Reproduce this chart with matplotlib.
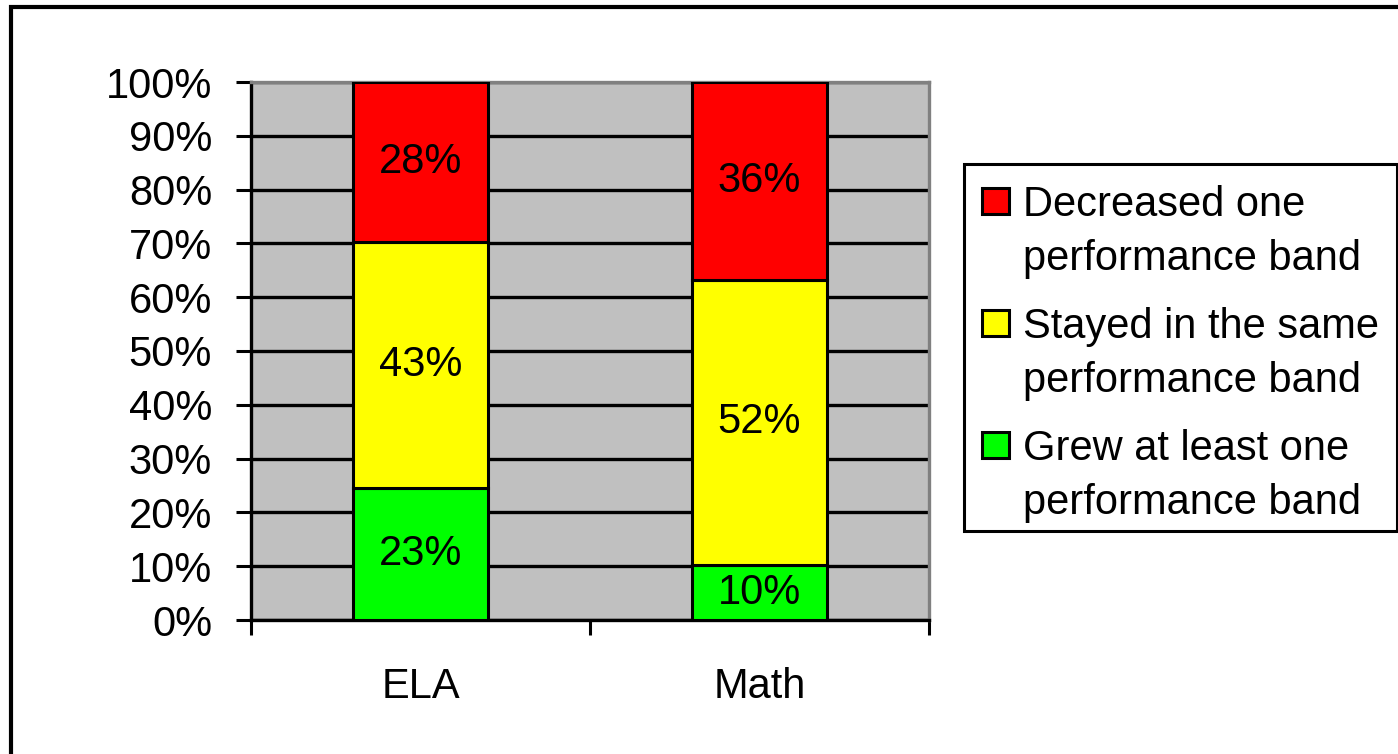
import matplotlib
matplotlib.use("Agg")
import matplotlib.pyplot as plt
from matplotlib.patches import Rectangle
import numpy as np

plt.rcParams['font.family'] = ['Liberation Sans', 'DejaVu Sans']

categories = ["ELA", "Math"]
series_names = ["Grew at least one\nperformance band",
                "Stayed in the same\nperformance band",
                "Decreased one\nperformance band"]
grew = [23, 10]
stayed = [43, 52]
decreased = [28, 36]
colors = ["#00FF00", "#FFFF00", "#FF0000"]
y_ticks = [0, 10, 20, 30, 40, 50, 60, 70, 80, 90, 100]
y_tick_labels = [f"{t}%" for t in y_ticks]

W, H = 1398, 754
FS = 30
fig = plt.figure(figsize=(W / 100, H / 100), dpi=100)
ax = fig.add_axes([251 / W, 1 - 620 / H, 678 / W, 538 / H])
ax.set_facecolor("#C0C0C0")

# 100% stacked: normalise each column
raw = np.array([grew, stayed, decreased], dtype=float)
share = raw / raw.sum(axis=0) * 100
x = np.arange(len(categories))
bottom = np.zeros(len(categories))
for vals, pct, col in zip(raw, share, colors):
    bars = ax.bar(x, pct, width=0.4, bottom=bottom, color=col,
                  edgecolor="black", linewidth=2.2, zorder=3)
    ax.bar_label(bars, labels=[f"{int(v)}%" for v in vals],
                 label_type="center", fontsize=FS)
    bottom += pct

ax.set_xlim(-0.5, 1.5)
ax.set_ylim(0, 100)
ax.set_yticks(y_ticks)
ax.set_yticklabels(y_tick_labels)
ax.set_xticks(x)
ax.set_xticklabels(categories)
ax.set_xticks([-0.5, 0.5, 1.5], minor=True)
ax.yaxis.grid(True, color="black", linewidth=2.4, zorder=1)
ax.set_axisbelow(True)
ax.tick_params(axis="y", direction="out", length=11, width=2.2,
               labelsize=FS, pad=17)
ax.tick_params(axis="x", which="major", length=0, labelsize=FS, pad=34)
ax.tick_params(axis="x", which="minor", direction="out", length=11, width=2.2)
for side in ["left", "bottom"]:
    ax.spines[side].set_color("black")
    ax.spines[side].set_linewidth(2.4)
for side in ["top", "right"]:
    ax.spines[side].set_color("#808080")
    ax.spines[side].set_linewidth(2.4)

# legend drawn by hand so the swatch sits on the first line of each label
fig.patches.append(Rectangle((964 / W, 1 - 531 / H), (1397 - 964) / W, (531 - 164) / H,
                             transform=fig.transFigure, facecolor="white",
                             edgecolor="black", linewidth=2.2))
for i, (name, col) in enumerate(zip(series_names[::-1], colors[::-1])):
    top = 188 + i * 122
    fig.patches.append(Rectangle((982 / W, 1 - (top + 26) / H), 27 / W, 26 / H,
                                 transform=fig.transFigure, facecolor=col,
                                 edgecolor="black", linewidth=2.2))
    fig.text(1023 / W, 1 - (top - 3) / H, name, fontsize=FS,
             va="top", ha="left", linespacing=1.46)

# outer frame (cut by the image edge on the right and bottom)
fig.patches.append(Rectangle((11 / W, -0.1), 2, 1.1 - 7 / H,
                             transform=fig.transFigure, fill=False,
                             edgecolor="black", linewidth=3))

fig.savefig("out.png", dpi=100)
